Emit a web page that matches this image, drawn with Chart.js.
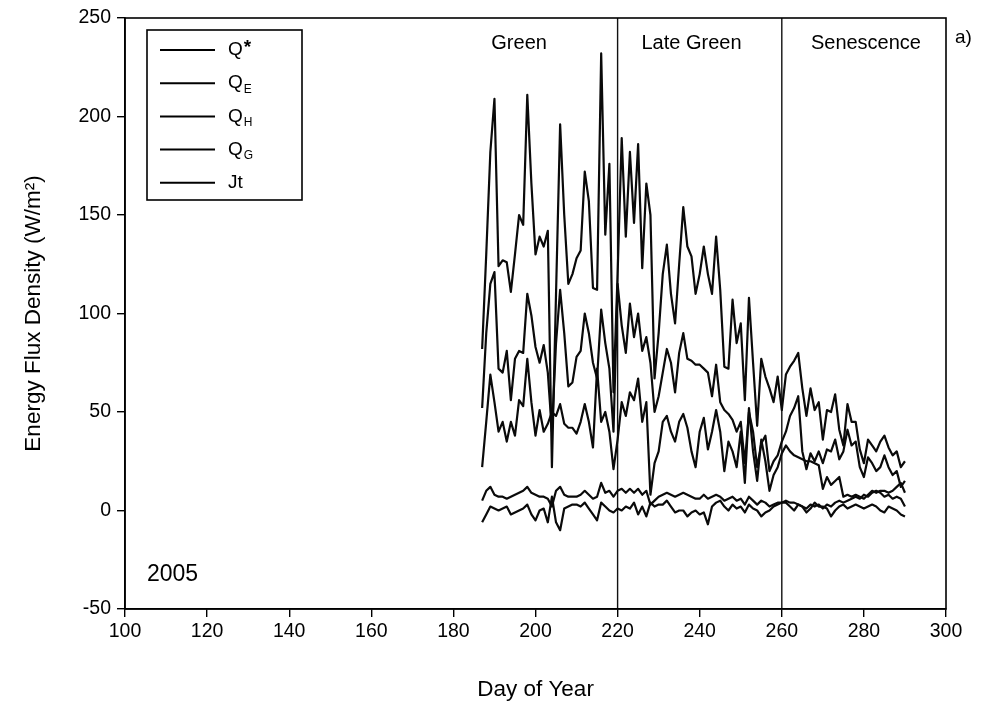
<!DOCTYPE html>
<html><head><meta charset="utf-8">
<script src="https://cdn.jsdelivr.net/npm/chart.js@4/dist/chart.umd.min.js"></script>
<style>html,body{margin:0;padding:0;background:#fff;}#wrap{width:985px;height:713px;}</style>
</head><body><div id="wrap"><canvas id="c" width="985" height="713"></canvas></div>
<script>
const days = [187,188,189,190,191,192,193,194,195,196,197,198,199,200,201,202,203,204,205,206,207,208,209,210,211,212,213,214,215,216,217,218,219,220,221,222,223,224,225,226,227,228,229,230,231,232,233,234,235,236,237,238,239,240,241,242,243,244,245,246,247,248,249,250,251,252,253,254,255,256,257,258,259,260,261,262,263,264,265,266,267,268,269,270,271,272,273,274,275,276,277,278,279,280,281,282,283,284,285,286,287,288,289,290];
const qStar = [82,130,182,209,124,127,126,111,130,150,145,211,166,130,139,134,142,22,110,196,150,115,120,128,132,172,157,113,112,232,140,176,60,120,189,139,182,146,186,123,166,150,67,90,120,135,110,95,125,154,134,129,110,120,134,120,110,139,112,73,72,107,85,95,56,108,75,43,77,68,62,55,68,51,69,73,76,80,62,48,62,51,55,36,51,50,59,41,33,54,45,45,31,24,36,33,30,35,38,32,28,30,22,25];
const qE = [52,90,115,121,72,70,81,56,77,81,80,110,99,83,75,84,70,40,85,112,90,63,65,78,81,100,90,75,67,102,85,72,40,115,94,80,105,88,100,81,88,75,50,58,70,82,75,60,80,90,77,76,74,74,72,70,58,74,55,51,49,46,40,45,24,50,40,22,34,38,20,25,28,35,40,48,52,58,30,21,29,25,30,24,31,30,36,26,30,41,33,35,22,17,27,24,20,22,28,22,18,20,12,15];
const qH = [22,45,69,55,40,45,35,45,38,56,53,77,55,38,51,40,44,50,48,54,44,42,42,39,45,54,45,32,72,45,50,40,21,36,55,48,60,56,67,45,55,8,24,30,45,48,40,35,45,49,42,30,22,40,47,31,40,51,40,20,35,30,22,40,14,52,30,15,36,25,10,18,22,29,33,30,28,27,26,25,25,24,23,11,17,13,15,17,7,8,7,8,7,6,8,10,9,10,10,9,10,12,14,9];
const qG = [5,10,12,8,7,7,6,7,8,9,10,12,9,8,7,7,6,2,10,12,8,7,7,7,8,10,8,6,7,14,9,10,7,10,11,9,11,9,11,8,10,3,5,7,8,9,8,7,8,9,8,7,6,6,8,6,7,8,7,5,6,7,5,6,3,7,5,3,5,4,2,3,4,4,5,4,4,3,2,1,3,2,3,1,3,2,4,5,4,5,6,7,6,8,7,9,10,9,7,8,6,7,6,2];
const jt = [-6,-2,2,1,0,1,2,-2,-1,0,1,3,-2,-5,0,1,-6,7,-6,-10,1,2,3,3,2,4,1,-2,-5,4,2,0,-1,1,0,2,1,4,-2,2,-3,4,2,3,3,5,2,-1,0,0,-3,-1,0,-2,-1,-7,2,4,5,2,0,3,1,2,-1,3,1,0,-3,-1,0,2,3,4,4,2,0,3,2,-1,1,4,2,2,1,-3,0,2,3,1,2,3,2,1,2,3,2,0,-1,2,1,0,-2,-3];
const phaseBounds = [220, 260];
const phaseLabels = [{text:'Green', day:196}, {text:'Late Green', day:238}, {text:'Senescence', day:280.5}];
const xTicks = {min:100, max:300, step:20};
const yTicks = {min:-50, max:250, step:50};
const legendItems = [{main:'Q', sup:'*', sub:''},{main:'Q', sub:'E'},{main:'Q', sub:'H'},{main:'Q', sub:'G'},{main:'Jt', sub:''}];

const FONT = "'Liberation Sans', Arial, sans-serif";
function series(vals){ return days.map((d,i)=>({x:d, y:vals[i]})); }
const lineStyle = {borderColor:'#0a0a0a', borderWidth:2.2, pointRadius:0, tension:0, fill:false, borderJoinStyle:'round'};
const datasets = [qStar,qE,qH,qG,jt].map(v=>Object.assign({data:series(v)}, lineStyle));
phaseBounds.forEach(b=>datasets.push({data:[{x:b,y:yTicks.min},{x:b,y:yTicks.max}], borderColor:'#111', borderWidth:1.4, pointRadius:0}));

const deco = {
  id:'deco',
  afterDraw(chart){
    const ctx = chart.ctx, a = chart.chartArea, xs = chart.scales.x;
    ctx.save();
    ctx.strokeStyle = '#000'; ctx.lineWidth = 1.6;
    ctx.strokeRect(a.left, a.top, a.right-a.left, a.bottom-a.top);
    ctx.fillStyle = '#000';
    ctx.font = '20px ' + FONT; ctx.textAlign='center'; ctx.textBaseline='middle';
    phaseLabels.forEach(p=>ctx.fillText(p.text, xs.getPixelForValue(p.day), a.top+25));
    ctx.font = '19px ' + FONT; ctx.textAlign='left';
    ctx.fillText('a)', a.right+9, a.top+20);
    ctx.font = '23px ' + FONT;
    ctx.fillText('2005', a.left+22, a.bottom-34);
    // legend
    const lx = a.left+22, ly = a.top+12, lw = 155, lh = 170;
    ctx.lineWidth = 1.6; ctx.strokeRect(lx, ly, lw, lh);
    legendItems.forEach((it,i)=>{
      const y = ly + 20 + i*33.2;
      ctx.lineWidth = 2; ctx.beginPath(); ctx.moveTo(lx+13, y); ctx.lineTo(lx+68, y); ctx.stroke();
      ctx.font = '19px ' + FONT; ctx.textAlign='left'; ctx.textBaseline='middle';
      const tx = lx+81;
      ctx.fillText(it.main, tx, y);
      const w = ctx.measureText(it.main).width;
      if (it.sup){ ctx.font = 'bold 19px ' + FONT; ctx.fillText(it.sup, tx+w+1, y-2); }
      if (it.sub){ ctx.font = '12px ' + FONT; ctx.fillText(it.sub, tx+w+1, y+6); }
    });
    ctx.restore();
  }
};

new Chart(document.getElementById('c'), {
  type:'line',
  data:{datasets},
  options:{
    responsive:false, animation:false, devicePixelRatio:1,
    layout:{padding:{left:0,right:39,top:18,bottom:0}},
    plugins:{legend:{display:false}, tooltip:{enabled:false}},
    scales:{
      x:{type:'linear', min:xTicks.min, max:xTicks.max,
        afterFit(s){ s.height = 104; },
        ticks:{stepSize:xTicks.step, color:'#000', font:{family:FONT, size:19.5}, padding:3, maxRotation:0},
        grid:{display:true, drawOnChartArea:false, drawTicks:true, tickLength:8, color:'#000', lineWidth:1.4},
        border:{display:true, color:'#000', width:1.6},
        title:{display:true, text:'Day of Year', color:'#000', font:{family:FONT, size:22.5}, padding:{top:0,bottom:10}}
      },
      y:{type:'linear', min:yTicks.min, max:yTicks.max,
        afterFit(s){ s.width = 125; },
        ticks:{stepSize:yTicks.step, color:'#000', font:{family:FONT, size:19.5}, padding:6},
        grid:{display:true, drawOnChartArea:false, drawTicks:true, tickLength:8, color:'#000', lineWidth:1.4},
        border:{display:true, color:'#000', width:1.6},
        title:{display:true, text:'Energy Flux Density (W/m²)', color:'#000', font:{family:FONT, size:22.5}, padding:{top:20,bottom:0}}
      }
    }
  },
  plugins:[deco]
});
</script></body></html>
